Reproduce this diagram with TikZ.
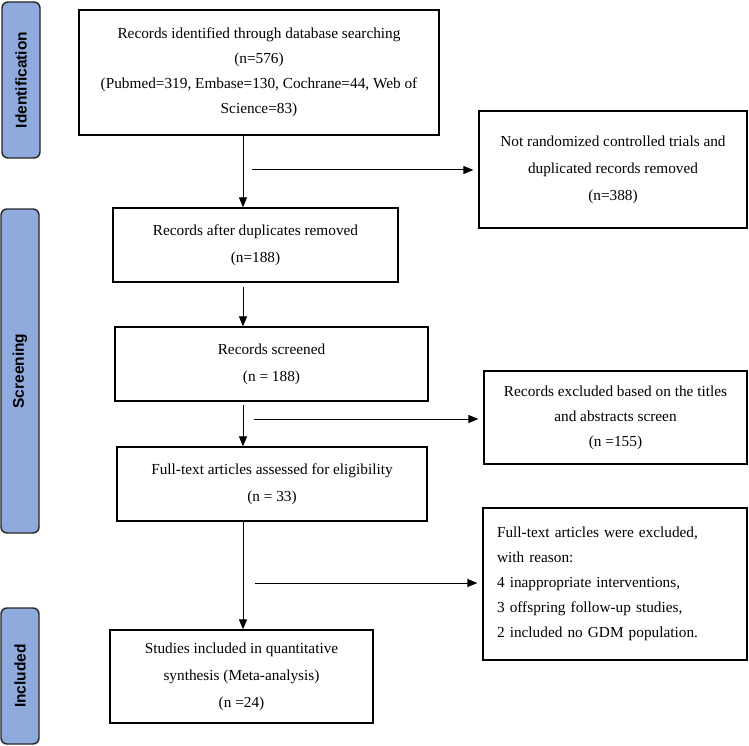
\documentclass[tikz,border=0pt]{standalone}
\usepackage{fontspec}
\setmainfont{Liberation Serif}
\newfontfamily\phasefont{Liberation Sans}
\usepackage{xcolor}
\usetikzlibrary{
    arrows.meta,
    calc,
    positioning
}
\definecolor{phaseblue}{HTML}{8FAADC}
\tikzset{
    box/.style={draw, line width=1.3pt, align=center, inner sep=4pt,
        font=\fontsize{15.3}{27}\selectfont},
    tightbox/.style={box, font=\fontsize{15.3}{25}\selectfont},
    phase/.style={draw=black!85, line width=1.4pt, rounded corners=6pt,
        fill=phaseblue, rotate=90, minimum height=38pt, inner sep=0pt,
        font=\phasefont\bfseries\fontsize{15.5}{18}\selectfont},
    flow/.style={line width=1pt, -{Triangle[length=10pt,width=8pt]}}
}

\begin{document}
\begin{tikzpicture}[x=1pt, y=-1pt]
    \useasboundingbox (0,0) rectangle (749,746);
    % phase labels on the left
    \node[phase, minimum width=156pt] (ident) at (21,80) {Identification};
    \node[phase, minimum width=324pt] (screening) at (20,371) {Screening};
    \node[phase, minimum width=136pt] (included) at (20,676) {Included};

    % main column
    \node[tightbox, minimum width=360pt, minimum height=125pt] (rec) at (259,72.5)
        {Records identified through database searching\\(n=576)\\(Pubmed=319, Embase=130, Cochrane=44, Web of\\Science=83)};
    \node[box, minimum width=285pt, minimum height=74pt] (dup) at (255.5,245)
        {Records after duplicates removed\\(n=188)};
    \node[box, minimum width=313pt, minimum height=74pt] (screen) at (271.5,364)
        {Records screened\\(n = 188)};
    \node[box, minimum width=310pt, minimum height=74pt] (full) at (272,484)
        {Full-text articles assessed for eligibility\\(n = 33)};
    \node[box, minimum width=263pt, minimum height=93pt] (incl) at (241.5,676.5)
        {Studies included in quantitative\\synthesis (Meta-analysis)\\(n =24)};

    % exclusions on the right
    \node[box, minimum width=268pt, minimum height=117pt] (excl1) at (613,169.5)
        {Not randomized controlled trials and\\duplicated records removed\\(n=388)};
    \node[tightbox, minimum width=263pt, minimum height=93pt] (excl2) at (615.5,417.5)
        {Records excluded based on the titles\\and abstracts screen\\(n =155)};
    \node[tightbox, align=left, text width=236pt, inner xsep=14pt, minimum height=152pt] (excl3) at (615,584)
        {Full-text articles were excluded,\\with reason:\\4 inappropriate interventions,\\3 offspring follow-up studies,\\2 included no GDM population.};

    % connectors
    \coordinate (spine) at (243,0);
    \coordinate (b1) at (252,170);
    \coordinate (b2) at (254,419);
    \coordinate (b3) at (255,583);
    \draw[flow] (rec.south -| spine) -- (dup.north -| spine);
    \draw[flow] ($(dup.south -| spine)+(0,4)$) -- (screen.north -| spine);
    \draw[flow] ($(screen.south -| spine)+(0,3)$) -- (full.north -| spine);
    \draw[flow] (full.south -| spine) -- (incl.north -| spine);
    \draw[flow, shorten >=5pt] (b1) -- (b1 -| excl1.west);
    \draw[flow, shorten >=5pt] (b2) -- (b2 -| excl2.west);
    \draw[flow, shorten >=5pt] (b3) -- (b3 -| excl3.west);
\end{tikzpicture}
\end{document}
